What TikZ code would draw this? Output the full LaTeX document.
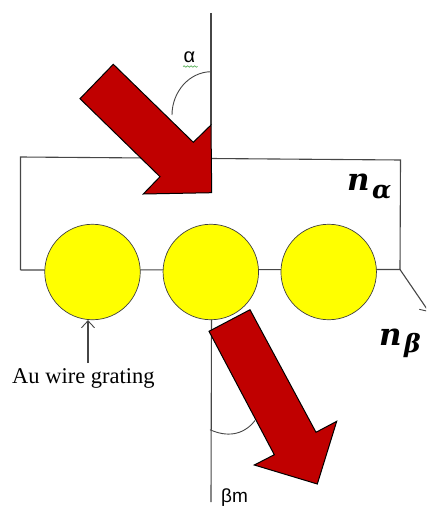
\documentclass[tikz,border=0pt]{standalone}
\usepackage{fontspec}
\usetikzlibrary{arrows.meta,decorations.pathmorphing}
\setmainfont{Liberation Serif}
\newfontfamily\labelsans{Liberation Sans}
\newfontfamily\indexfont{DejaVu Serif Bold Italic}
\definecolor{linegrey}{RGB}{70,70,70}
\definecolor{beamred}{RGB}{192,0,0}
\definecolor{wireyellow}{RGB}{255,255,0}
\definecolor{squiggle}{RGB}{90,175,90}
\tikzset{
  guide/.style={draw=linegrey,line width=1.1pt},
  wire/.style={circle,draw=black!75,line width=0.7pt,fill=wireyellow,minimum size=95.5pt,inner sep=0pt},
  beam/.style={draw=black,line width=1pt,fill=beamred,line join=miter},
  open/.style={-{Straight Barb[length=7pt,width=13pt,line width=0.9pt]}},
  refr/.style={font=\indexfont\fontsize{31}{31}\selectfont,inner sep=0pt,anchor=base west},
  sub/.style={font=\indexfont\fontsize{25}{25}\selectfont,inner sep=0pt,anchor=base west}
}
\begin{document}
\begin{tikzpicture}[x=1pt,y=-1pt]
\useasboundingbox (0,0) rectangle (426,508);
\clip (0,0) rectangle (426,508);
% construction points
\coordinate (topN) at (211,13);
\coordinate (topS) at (211,125);
\coordinate (tl) at (20.5,157);
\coordinate (tr) at (400.5,160);
\coordinate (bl) at (20.5,270);
\coordinate (br) at (400,269.5);
\coordinate (nbEnd) at (429,312);
\coordinate (lowN) at (211.5,318);
\coordinate (lowS) at (211,502);
\coordinate (auTail) at (88,363);
\coordinate (a1) at (211,71.7);
\coordinate (a2) at (172,115);
\coordinate (b1) at (210,429.7);
\coordinate (b2) at (255,420.5);
% lines
\draw[guide] (topN) -- (topS);
\draw[guide] (bl) -- (tl) -- (tr) -- (br) -- (bl);
\draw[guide,open] (br) -- (nbEnd);
\draw[guide] (lowN) -- (lowS);
\draw[guide,line width=0.9pt] (a1) .. controls (189,72) and (172,92) .. (a2);
\draw[guide,line width=0.9pt] (b1) .. controls (226,437) and (243,436) .. (b2);
% wires
\node[wire] (w1) at (92.5,272) {};
\node[wire] (w2) at (210.8,272) {};
\node[wire] (w3) at (328.7,272) {};
% beams
\draw[beam] (113.3,64.3) -- (80,98.7) -- (160,176.7) -- (143.3,194) -- (211.7,192.7) -- (211,125) -- (193.3,142.3) -- cycle;
\draw[beam] (250,309.7) -- (209,331.3) -- (274.3,454.7) -- (254.3,465) -- (317.3,484) -- (336.7,421.3) -- (316,432.3) -- cycle;
% labels
\node[font=\fontsize{22.5}{22.5}\selectfont,inner sep=0pt,anchor=base west] (au) at (12,383.5) {Au wire grating};
\draw[guide,open] (auTail) -- (w1.south -| auTail);
\node[font=\labelsans\fontsize{20}{20}\selectfont,inner sep=0pt,anchor=base] (alpha) at (189.5,63) {α};
\draw[squiggle,line width=0.7pt,decorate,decoration={snake,amplitude=0.7pt,segment length=3.5pt}] (183,66.5) -- (197.5,66.5);
\node[font=\labelsans\fontsize{19}{19}\selectfont,inner sep=0pt,anchor=base west] (betam) at (221,502.5) {βm};
\node[refr] (na) at (347,190) {n};
\node[sub] (nas) at (372,198) {α};
\node[refr] (nb) at (379,345) {n};
\node[sub] (nbs) at (404,352) {β};
\end{tikzpicture}
\end{document}
